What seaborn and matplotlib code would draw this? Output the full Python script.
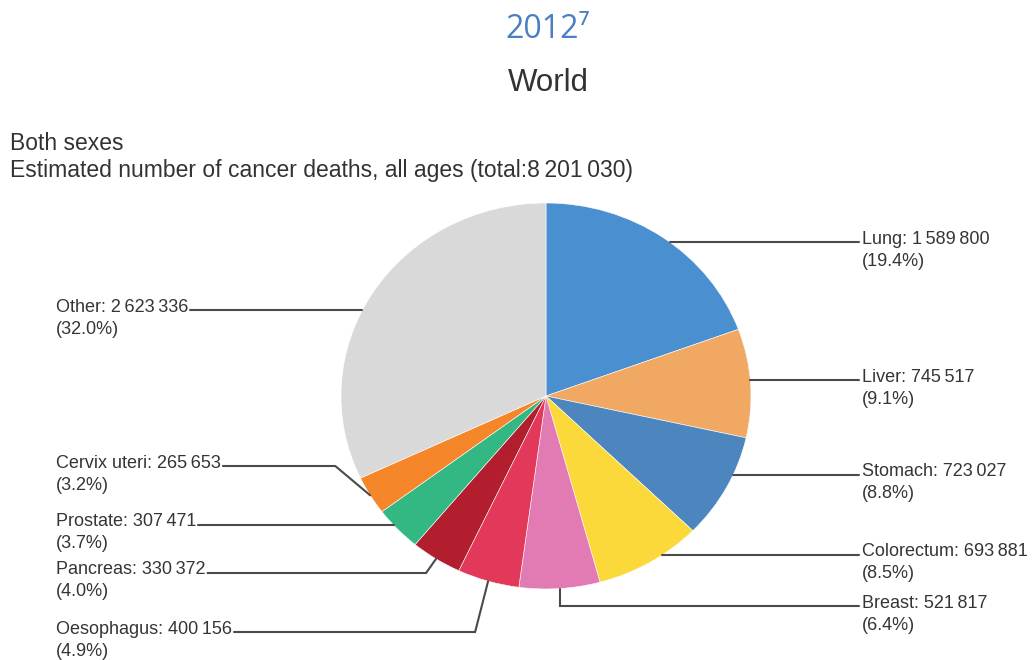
import numpy as np
import matplotlib
matplotlib.use('Agg')
import matplotlib.pyplot as plt
import seaborn as sns

# 2012년 전세계 암 사망자 수 (양성, 전 연령)
sites = ['Lung', 'Liver', 'Stomach', 'Colorectum', 'Breast',
         'Oesophagus', 'Pancreas', 'Prostate', 'Cervix uteri', 'Other']
deaths = [1589800, 745517, 723027, 693881, 521817,
          400156, 330372, 307471, 265653, 2623336]
shares = [19.4, 9.1, 8.8, 8.5, 6.4, 4.9, 4.0, 3.7, 3.2, 32.0]
total = 8201030
colors = ['#4a8fd0', '#f0a862', '#4d86be', '#fbd93a', '#e27bb3',
          '#e2385a', '#b21e2e', '#34b883', '#f5872a', '#d9d9d9']

# 라벨 배치 (픽셀 단위), elbow=None 이면 수평선으로 파이에 바로 연결
label_y = [242, 380, 475, 555, 606, 632, 573, 525, 466, 310]
elbow_dx = [None, None, None, None, 0, -13, -10, None, -35, None]

sns.set_theme(style='white')
plt.rcParams['font.family'] = ['Liberation Sans', 'DejaVu Sans']

W, H = 1036, 660
cx, cy, rx, ry = 546, 396, 205, 193

fig = plt.figure(figsize=(W / 100, H / 100), dpi=100)
fig.patch.set_facecolor('white')
ax = fig.add_axes([0, 0, 1, 1])


def dx(p):  # 픽셀 -> 데이터 좌표
    return (p - cx) / rx


def dy(p):
    return (cy - p) / ry


def fmt(n):
    return f'{n:,}'.replace(',', '\u2009')


wedges, _ = ax.pie(deaths, colors=colors, startangle=90, counterclock=False,
                   radius=1, center=(0, 0),
                   wedgeprops=dict(edgecolor='white', linewidth=0.4))
ax.set_aspect('auto')
ax.set_xlim(dx(0), dx(W))
ax.set_ylim(dy(H), dy(0))
ax.axis('off')

txt_color = '#353535'
names = []
for i, w in enumerate(wedges):
    mid = np.deg2rad((w.theta1 + w.theta2) / 2)
    right = np.cos(mid) > 0
    tx = 862 if right else 56
    t1 = ax.text(dx(tx), dy(label_y[i] - 3), f'{sites[i]}: {fmt(deaths[i])}',
                 ha='left', va='center', fontsize=13, color=txt_color)
    ax.text(dx(tx), dy(label_y[i] + 19), f'({shares[i]:.1f}%)',
            ha='left', va='center', fontsize=13, color=txt_color)
    names.append((t1, mid, right))

fig.canvas.draw()
renderer = fig.canvas.get_renderer()
for i, (t1, mid, right) in enumerate(names):
    ey = dy(label_y[i])
    if elbow_dx[i] is None:
        # 라벨 높이에서 파이 가장자리로 수평 연결
        ax_y = ey
        ax_x = np.sqrt(max(0.0, 1 - ey ** 2)) * (1 if right else -1)
        ex = ax_x
    else:
        ax_x, ax_y = np.cos(mid), np.sin(mid)
        ex = ax_x + elbow_dx[i] / rx
    if right:
        end_x = dx(859)
    else:
        bb = t1.get_window_extent(renderer)
        end_x = dx(bb.x1 + 2)
    ax.plot([ax_x, ex, end_x], [ax_y, ey, ey], color='#4a4a4a', lw=1.5,
            solid_joinstyle='miter')

fig.text(548 / W, 1 - 30 / H, '2012\u2077', ha='center', va='center',
         fontsize=23, color='#4a7fc1', family=['Open Sans', 'DejaVu Sans'])
fig.text(548 / W, 1 - 83 / H, 'World', ha='center', va='center',
         fontsize=22.5, color='#333333')
fig.text(10 / W, 1 - 143 / H, 'Both sexes', ha='left', va='center',
         fontsize=16.5, color='#333333')
fig.text(10 / W, 1 - 170 / H,
         f'Estimated number of cancer deaths, all ages (total:{fmt(total)})',
         ha='left', va='center', fontsize=16.5, color='#333333')

fig.savefig('out.png', dpi=100, facecolor='white')
